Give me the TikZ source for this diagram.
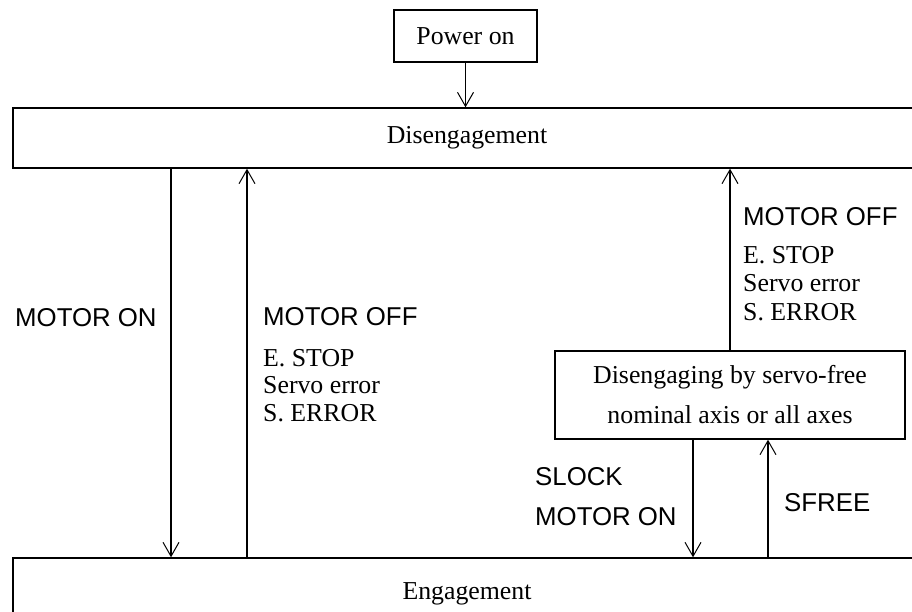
\documentclass[tikz,border=0pt]{standalone}
\usepackage{fontspec}
\setmainfont{Liberation Serif}
\newfontfamily\arialfont{Liberation Sans}
\usetikzlibrary{arrows.meta}
\tikzset{
  box/.style={draw, line width=1.4pt, inner sep=0pt, font=\fontsize{25.8}{40}\selectfont},
  arr/.style={line width=1.2pt, -{Straight Barb[length=14pt, width=16pt, line width=1pt]}},
  sanslbl/.style={anchor=base west, inner sep=0pt, font=\arialfont\fontsize{25.8}{30}\selectfont},
  seriflbl/.style={anchor=base west, inner sep=0pt, font=\fontsize{25.8}{30}\selectfont},
}
\begin{document}
\begin{tikzpicture}[x=1pt,y=-1pt]
\clip (0,0) rectangle (912,611);
\node[box, minimum width=143pt, minimum height=52pt] (pwr) at (465.5,36) {Power on};
\node[box, minimum width=908pt, minimum height=60pt] (dis) at (467,138) {Disengagement};
\node[box, minimum width=908pt, minimum height=72pt] (eng) at (467,594) {Engagement};
\node[box, minimum width=350pt, minimum height=88pt, align=center] (srv) at (730,395)
  {Disengaging by servo-free\\nominal axis or all axes};

\coordinate (xa) at (171,0);
\coordinate (xb) at (247,0);
\coordinate (xc) at (693,0);
\coordinate (xd) at (768,0);

\draw[arr] (pwr.south) -- (pwr.south |- dis.north);
\draw[arr] (xa |- dis.south) -- (xa |- eng.north);
\draw[arr] (xb |- eng.north) -- (xb |- dis.south);
\draw[arr] (srv.north) -- (srv.north |- dis.south);
\draw[arr] (xc |- srv.south) -- (xc |- eng.north);
\draw[arr] (xd |- eng.north) -- (xd |- srv.south);

\node[sanslbl] (lmon) at (15,326) {MOTOR ON};

\node[sanslbl] (lmoff) at (263,325) {MOTOR OFF};
\node[seriflbl] (lestop) at (263,366) {E. STOP};
\node[seriflbl] (lserr) at (263,393) {Servo error};
\node[seriflbl] (lserror) at (263,421) {S. ERROR};

\node[sanslbl] (rmoff) at (743,225) {MOTOR OFF};
\node[seriflbl] (restop) at (743,263) {E. STOP};
\node[seriflbl] (rserr) at (743,291) {Servo error};
\node[seriflbl] (rserror) at (743,320) {S. ERROR};

\node[sanslbl] (slock) at (535,485) {SLOCK};
\node[sanslbl] (smon) at (535,525) {MOTOR ON};
\node[sanslbl] (sfree) at (784,511) {SFREE};
\end{tikzpicture}
\end{document}
